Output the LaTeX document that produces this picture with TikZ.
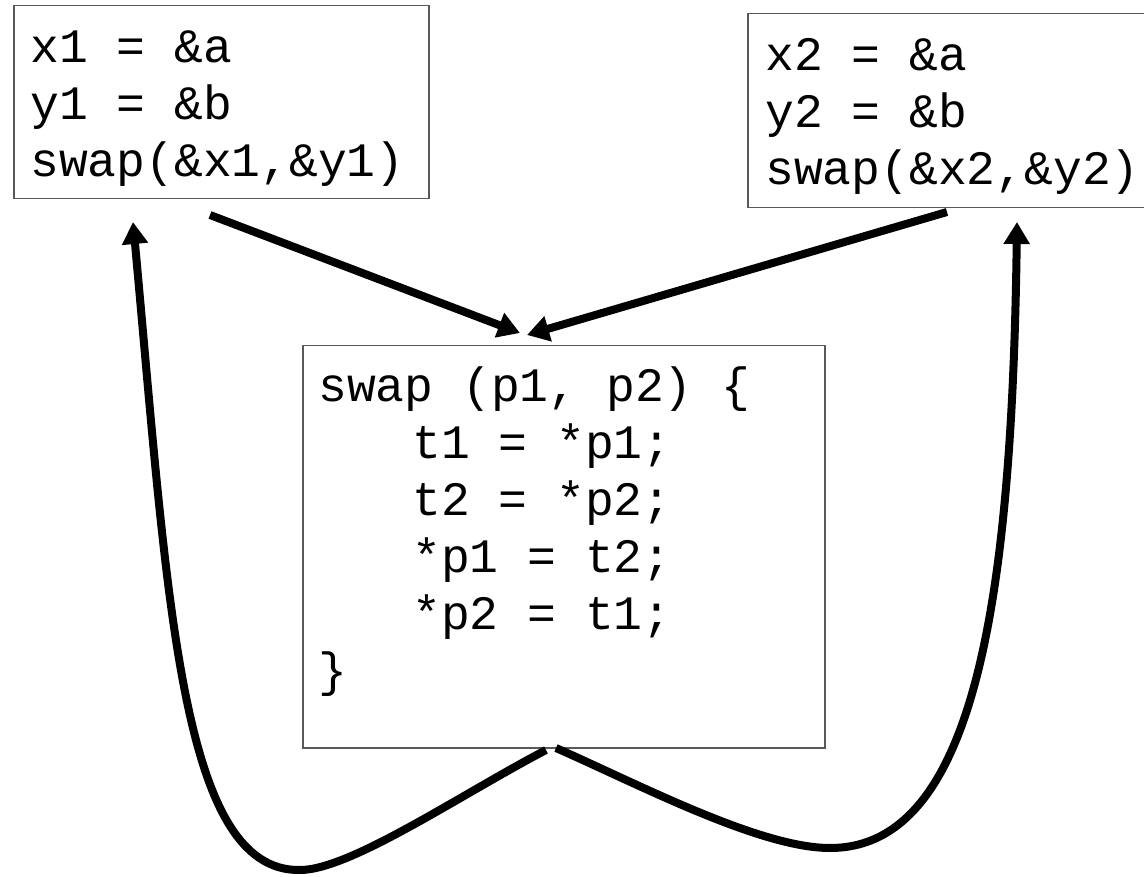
\documentclass[tikz,border=0pt]{standalone}
\usepackage{fontspec}
\newfontfamily\codefont{Liberation Mono}
\usetikzlibrary{arrows.meta}
\begin{document}
\begin{tikzpicture}[x=1pt,y=-1pt,
  box/.style={draw=black!65, line width=1.5pt, fill=white, inner sep=0pt, anchor=north west},
  code/.style={font=\codefont\fontsize{48}{57}\selectfont, inner sep=0pt, anchor=base west},
  flow/.style={line width=8pt, -{Triangle[width=25pt,length=22pt]}}]
\useasboundingbox (0,0) rectangle (1144,877);
% boxes
\node[box, minimum width=415pt, minimum height=193pt] (b1) at (13,5) {};
\node[box, minimum width=415pt, minimum height=194pt] (b2) at (747,13) {};
\node[box, minimum width=522pt, minimum height=402pt] (b3) at (302,345) {};
% code
\node[code] (c1) at (30,63) {\begin{tabular}[t]{@{}l@{}}x1 = \&a\\y1 = \&b\\swap(\&x1,\&y1)\end{tabular}};
\node[code] (c2) at (765,71) {\begin{tabular}[t]{@{}l@{}}x2 = \&a\\y2 = \&b\\swap(\&x2,\&y2)\end{tabular}};
\node[code] (c3) at (318,402) {\begin{tabular}[t]{@{}l@{}}swap (p1, p2) \{\\
\hspace*{94pt}t1 = *p1;\\
\hspace*{94pt}t2 = *p2;\\
\hspace*{94pt}*p1 = t2;\\
\hspace*{94pt}*p2 = t1;\\
\}\end{tabular}};
% connector ends
\coordinate (a0) at (210,215);
\coordinate (a1) at (520,333);
\coordinate (b0) at (947,212);
\coordinate (b1e) at (527,335);
\coordinate (l0) at (546,750);
\coordinate (l1) at (133,222);
\coordinate (r0) at (556,748);
\coordinate (r1) at (1017,222);
\draw[flow] (a0) -- (a1);
\draw[flow] (b0) -- (b1e);
\draw[flow] (l0) .. controls (460,795) and (350,870) .. (300,870)
               .. controls (180,872) and (168,600) .. (l1);
\draw[flow] (r0) .. controls (640,785) and (760,848) .. (830,848)
               .. controls (975,848) and (1012,600) .. (r1);
\end{tikzpicture}
\end{document}
